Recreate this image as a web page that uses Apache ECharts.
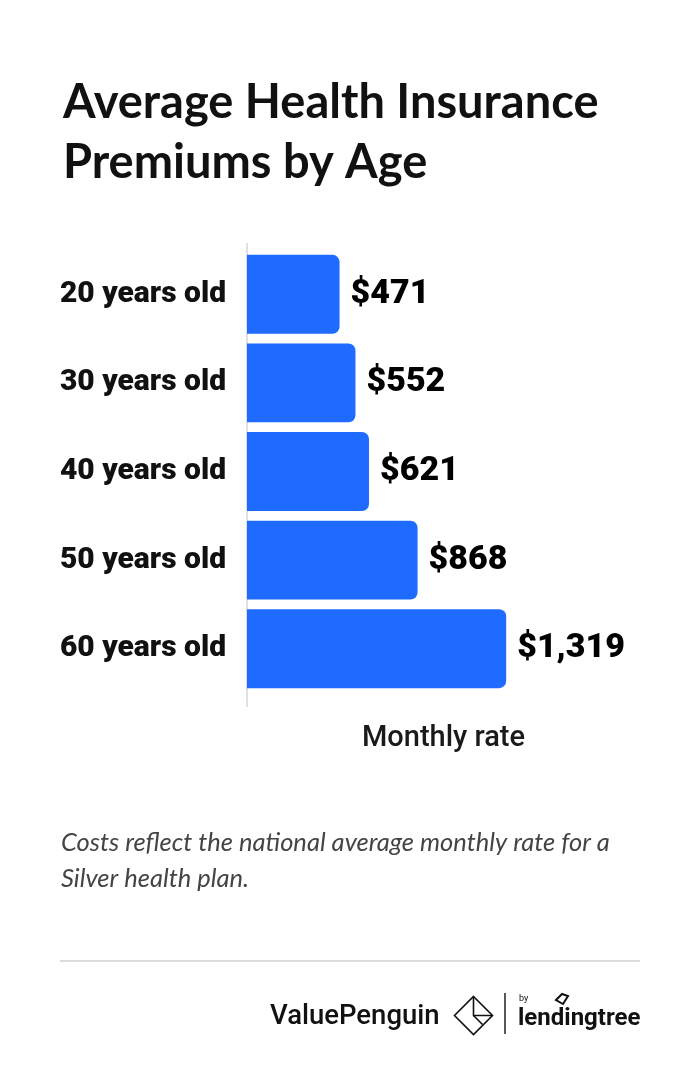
<!DOCTYPE html>
<html><head><meta charset="utf-8">
<script src="https://cdn.jsdelivr.net/npm/echarts@6/dist/echarts.min.js"></script>
<style>html,body{margin:0;padding:0;background:#fff}#c{width:700px;height:1070px}</style>
</head><body><div id="c"></div>
<script>
const categories = ['20 years old','30 years old','40 years old','50 years old','60 years old'];
const premiums = [471, 552, 621, 868, 1319];
const titleText = 'Average Health Insurance\nPremiums by Age';
const axisName = 'Monthly rate';
const noteText = 'Costs reflect the national average monthly rate for a\nSilver health plan.';

const chart = echarts.init(document.getElementById('c'));
chart.setOption({
  backgroundColor: '#fff',
  animation: false,
  title: {
    text: titleText, left: 58, top: 68,
    textStyle: {fontFamily: 'Lato', fontWeight: 'bold', fontSize: 47, lineHeight: 60, color: '#111'}
  },
  grid: {left: 247, top: 250, width: 393, height: 443, containLabel: false},
  xAxis: {
    type: 'value', min: 0, max: 2000,
    show: true, axisLine: {show: false}, axisTick: {show: false}, axisLabel: {show: false}, splitLine: {show: false},
    name: axisName, nameLocation: 'middle', nameGap: 31,
    nameTextStyle: {fontFamily: 'Roboto', fontWeight: 500, fontSize: 29, color: '#1a1a1a'}
  },
  yAxis: {
    type: 'category', inverse: true, data: categories,
    axisLine: {show: false}, axisTick: {show: false},
    axisLabel: {margin: 21, fontFamily: 'Roboto', fontWeight: 900, fontSize: 30, color: '#111'}
  },
  series: [{
    type: 'bar', data: premiums, barWidth: '89%',
    itemStyle: {color: '#1f6bff', borderRadius: [0, 7, 7, 0]},
    label: {
      show: true, position: 'right', distance: 11,
      fontFamily: 'Roboto', fontWeight: 900, fontSize: 34, color: '#000',
      formatter: p => '$' + p.value.toLocaleString('en-US')
    }
  }],
  graphic: [
    {type: 'line', shape: {x1: 247, y1: 243, x2: 247, y2: 707}, style: {stroke: '#e0e0e0', lineWidth: 2}},
    {type: 'text', left: 61, top: 825, style: {text: noteText, font: 'italic 25.5px Lato', fill: '#444', lineHeight: 36}},
    {type: 'line', shape: {x1: 60, y1: 961, x2: 640, y2: 961}, style: {stroke: '#dcdcdc', lineWidth: 2}},
    {type: 'text', left: 270, top: 1003, style: {text: 'ValuePenguin', font: '500 27.5px Roboto', fill: '#111'}},
    {type: 'group', left: 452, top: 994, children: [
      {type: 'polygon', shape: {points: [[19,0],[38,19],[19,38],[0,19]]}, style: {fill: 'none', stroke: '#111', lineWidth: 1.6}},
      {type: 'polyline', shape: {points: [[19,0],[19,19],[38,19]]}, style: {fill: 'none', stroke: '#111', lineWidth: 1.6}},
      {type: 'polyline', shape: {points: [[19,19],[28,28]]}, style: {fill: 'none', stroke: '#111', lineWidth: 1.6}}
    ]},
    {type: 'line', shape: {x1: 505, y1: 993, x2: 505, y2: 1034}, style: {stroke: '#222', lineWidth: 1.5}},
    {type: 'text', left: 519, top: 994, style: {text: 'by', font: '9px Roboto', fill: '#111'}},
    {type: 'text', left: 518, top: 1007, style: {text: 'lendingtree', font: 'bold 24px Roboto', fill: '#111'}},
    {type: 'polygon', shape: {points: [[556,1000],[562,994],[568,996],[563,1004]]}, style: {fill: 'none', stroke: '#111', lineWidth: 2}}
  ]
});
</script></body></html>
